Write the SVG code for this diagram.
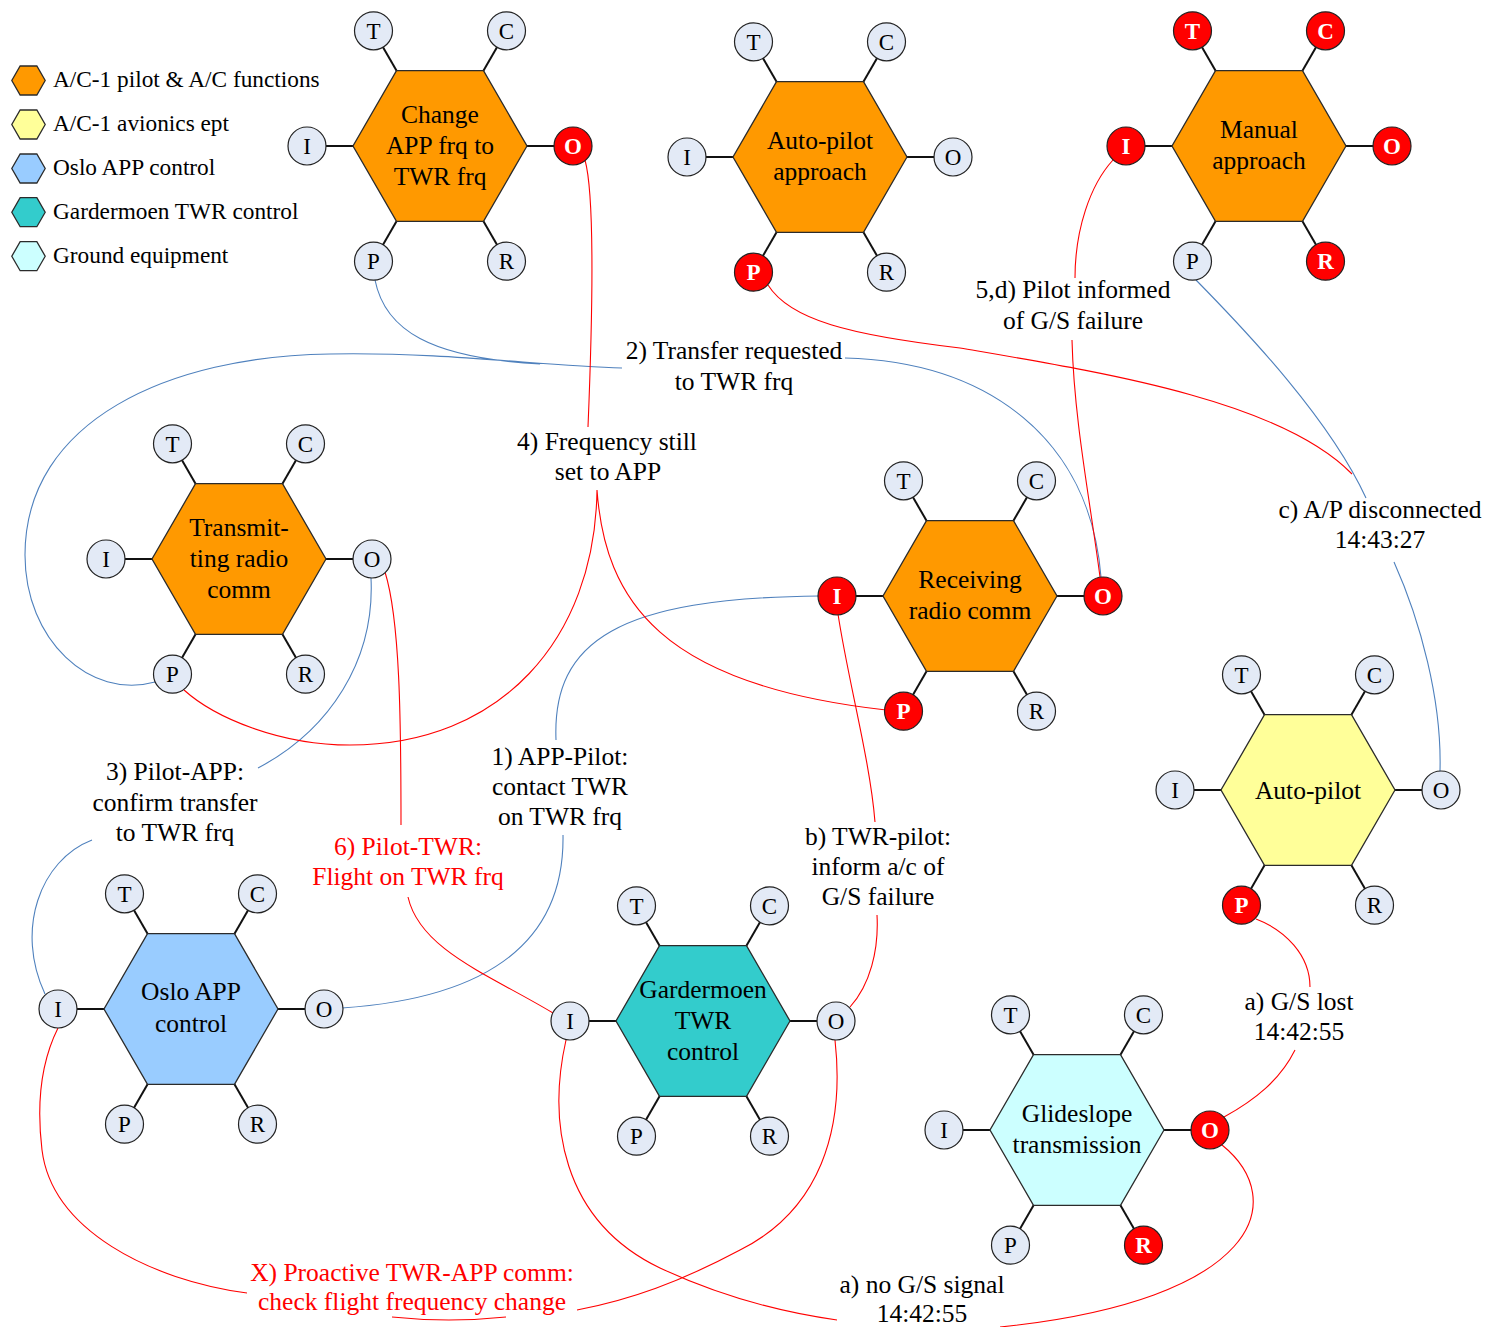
<svg xmlns="http://www.w3.org/2000/svg" xmlns:xlink="http://www.w3.org/1999/xlink" width="1486" height="1327" viewBox="0 0 1486 1327">
  <style>
    .hex { stroke: #2b2b2b; stroke-width: 1.3; }
    .pilot { fill: #FF9900; }
    .avionics { fill: #FFFF99; }
    .app { fill: #99CCFF; }
    .twr { fill: #33CCCC; }
    .ground { fill: #CCFFFF; }
    .spoke { stroke: #111; stroke-width: 2; }
    .port circle { fill: #E3EAF6; stroke: #222; stroke-width: 1.2; }
    .port text { font-family: "Liberation Serif", "Times New Roman", serif; font-size: 23px; text-anchor: middle; fill: #000; }
    .port.hot circle { fill: #FF0000; }
    .port.hot text { fill: #fff; font-weight: bold; }
    .name { font-family: "Liberation Serif", "Times New Roman", serif; font-size: 25.5px; text-anchor: middle; fill: #000; }
    .lbl { font-family: "Liberation Serif", "Times New Roman", serif; font-size: 25.5px; text-anchor: middle; fill: #000; }
    .lbl.red { fill: #FF0000; }
    .legend text { font-family: "Liberation Serif", "Times New Roman", serif; font-size: 23.3px; fill: #000; }
    .wire { fill: none; stroke-width: 1.1; }
    .wire.blue { stroke: #4F81BD; }
    .wire.red { stroke: #FF0000; }
  </style>
  <defs>
    <polygon id="hex" points="87,0 43.5,75.3 -43.5,75.3 -87,0 -43.5,-75.3 43.5,-75.3"/>
    <polygon id="hex-small" points="16.7,0 8.35,14.5 -8.35,14.5 -16.7,0 -8.35,-14.5 8.35,-14.5"/>
    <g id="spokes" class="spoke">
      <line x1="-133" y1="0" x2="133" y2="0"/>
      <line x1="-66.5" y1="-115.2" x2="66.5" y2="115.2"/>
      <line x1="66.5" y1="-115.2" x2="-66.5" y2="115.2"/>
    </g>
  </defs>

  <rect width="1486" height="1327" fill="#fff"/>

  <!-- legend -->
  <g id="legend" class="legend">
    <use xlink:href="#hex-small" x="28.5" y="80.5" class="hex pilot"/>
    <text x="53" y="87">A/C-1 pilot &amp; A/C functions</text>
    <use xlink:href="#hex-small" x="28.5" y="124.5" class="hex avionics"/>
    <text x="53" y="131">A/C-1 avionics ept</text>
    <use xlink:href="#hex-small" x="28.5" y="168.5" class="hex app"/>
    <text x="53" y="175">Oslo APP control</text>
    <use xlink:href="#hex-small" x="28.5" y="212.2" class="hex twr"/>
    <text x="53" y="218.5">Gardermoen TWR control</text>
    <use xlink:href="#hex-small" x="28.5" y="256.2" class="hex ground"/>
    <text x="53" y="262.5">Ground equipment</text>
  </g>

  <!-- couplings between functions -->
  <g id="connectors">
    <g id="c1-contact-twr">
      <path class="wire blue" d="M 342,1008 C 460,1000 565,960 563,835 M 556,740 C 552,640 620,598 819,596"/>
      <text class="lbl" x="560" y="765">1) APP-Pilot:</text>
      <text class="lbl" x="560" y="795">contact TWR</text>
      <text class="lbl" x="560" y="825">on TWR frq</text>
    </g>
    <g id="c2-transfer-requested">
      <path class="wire blue" d="M 155,682 C 90,700 25,640 25,555 C 25,420 170,356 330,354 C 450,352 540,366 622,368 M 375,280 C 385,330 430,358 540,364 M 845,358 C 990,362 1090,440 1101,577"/>
      <text class="lbl" x="734" y="359">2) Transfer requested</text>
      <text class="lbl" x="734" y="390">to TWR frq</text>
    </g>
    <g id="c3-confirm-transfer">
      <path class="wire blue" d="M 371,578 C 375,660 330,730 258,768 M 92,840 C 40,860 15,930 45,994"/>
      <text class="lbl" x="175" y="780">3) Pilot-APP:</text>
      <text class="lbl" x="175" y="811">confirm transfer</text>
      <text class="lbl" x="175" y="841">to TWR frq</text>
    </g>
    <g id="c4-frequency-app">
      <path class="wire red" d="M 585,160 C 596,200 592,330 588,427 M 597,490 C 595,640 500,745 350,745 C 280,745 215,718 184,690 M 597,490 C 605,600 660,685 886,710"/>
      <text class="lbl" x="607" y="450">4) Frequency still</text>
      <text class="lbl" x="608" y="480">set to APP</text>
    </g>
    <g id="c5-pilot-informed">
      <path class="wire red" d="M 1113,160 C 1090,185 1075,230 1075,278 M 1072,340 C 1074,420 1090,500 1100,577"/>
      <text class="lbl" x="1073" y="298">5,d) Pilot informed</text>
      <text class="lbl" x="1073" y="329">of G/S failure</text>
    </g>
    <g id="c6-flight-on-twr">
      <path class="wire red" d="M 385,572 C 400,620 401,720 401,825 M 408,897 C 420,950 490,975 553,1013"/>
      <text class="lbl red" x="408" y="855">6) Pilot-TWR:</text>
      <text class="lbl red" x="408" y="885">Flight on TWR frq</text>
    </g>
    <g id="ca-gs-lost">
      <path class="wire red" d="M 1256,919 C 1285,930 1310,955 1310,987 M 1295,1050 C 1280,1080 1255,1100 1224,1117"/>
      <text class="lbl" x="1299" y="1010">a) G/S lost</text>
      <text class="lbl" x="1299" y="1040">14:42:55</text>
    </g>
    <g id="ca-no-gs-signal">
      <path class="wire red" d="M 1222,1145 C 1290,1200 1260,1300 1000,1327 M 566,1040 C 548,1120 560,1220 660,1268 C 720,1296 780,1312 837,1320"/>
      <text class="lbl" x="922" y="1293">a) no G/S signal</text>
      <text class="lbl" x="922" y="1322">14:42:55</text>
    </g>
    <g id="cb-inform-gs-failure">
      <path class="wire red" d="M 850,1007 C 870,985 879,950 877,915 M 838,614 C 848,680 870,760 875,822"/>
      <text class="lbl" x="878" y="845">b) TWR-pilot:</text>
      <text class="lbl" x="878" y="875">inform a/c of</text>
      <text class="lbl" x="878" y="905">G/S failure</text>
    </g>
    <g id="cc-ap-disconnected">
      <path class="wire red" d="M 768,285 C 790,320 850,335 960,348 C 1100,372 1280,400 1352,474"/>
      <path class="wire blue" d="M 1196,280 C 1250,335 1330,420 1366,498 M 1394,562 C 1420,620 1442,700 1440,771"/>
      <text class="lbl" x="1380" y="518">c) A/P disconnected</text>
      <text class="lbl" x="1380" y="548">14:43:27</text>
    </g>
    <g id="cx-proactive-check">
      <path class="wire red" d="M 58,1028 C 42,1060 36,1100 42,1150 C 52,1230 150,1280 247,1293 M 392,1317 Q 449,1323 506,1317 M 835,1040 C 845,1130 820,1210 740,1250 C 680,1282 630,1300 577,1310"/>
      <text class="lbl red" x="412" y="1281">X) Proactive TWR-APP comm:</text>
      <text class="lbl red" x="412" y="1310">check flight frequency change</text>
    </g>
  </g>

  <!-- functions -->
  <g id="fn-change-frq" transform="translate(440,146)">
    <use xlink:href="#spokes"/>
    <use xlink:href="#hex" class="hex pilot"/>
    <text class="name" y="-23">Change</text>
    <text class="name" y="8">APP frq to</text>
    <text class="name" y="39">TWR frq</text>
    <g class="port"><circle cx="-66.5" cy="-115.2" r="19"/><text x="-66.5" y="-107.2">T</text></g>
    <g class="port"><circle cx="66.5" cy="-115.2" r="19"/><text x="66.5" y="-107.2">C</text></g>
    <g class="port"><circle cx="-133" cy="0" r="19"/><text x="-133" y="8">I</text></g>
    <g class="port hot"><circle cx="133" cy="0" r="19"/><text x="133" y="8">O</text></g>
    <g class="port"><circle cx="-66.5" cy="115.2" r="19"/><text x="-66.5" y="123.2">P</text></g>
    <g class="port"><circle cx="66.5" cy="115.2" r="19"/><text x="66.5" y="123.2">R</text></g>
  </g>

  <g id="fn-autopilot-approach" transform="translate(820,157)">
    <use xlink:href="#spokes"/>
    <use xlink:href="#hex" class="hex pilot"/>
    <text class="name" y="-8">Auto-pilot</text>
    <text class="name" y="22.5">approach</text>
    <g class="port"><circle cx="-66.5" cy="-115.2" r="19"/><text x="-66.5" y="-107.2">T</text></g>
    <g class="port"><circle cx="66.5" cy="-115.2" r="19"/><text x="66.5" y="-107.2">C</text></g>
    <g class="port"><circle cx="-133" cy="0" r="19"/><text x="-133" y="8">I</text></g>
    <g class="port"><circle cx="133" cy="0" r="19"/><text x="133" y="8">O</text></g>
    <g class="port hot"><circle cx="-66.5" cy="115.2" r="19"/><text x="-66.5" y="123.2">P</text></g>
    <g class="port"><circle cx="66.5" cy="115.2" r="19"/><text x="66.5" y="123.2">R</text></g>
  </g>

  <g id="fn-manual-approach" transform="translate(1259,146)">
    <use xlink:href="#spokes"/>
    <use xlink:href="#hex" class="hex pilot"/>
    <text class="name" y="-8">Manual</text>
    <text class="name" y="22.5">approach</text>
    <g class="port hot"><circle cx="-66.5" cy="-115.2" r="19"/><text x="-66.5" y="-107.2">T</text></g>
    <g class="port hot"><circle cx="66.5" cy="-115.2" r="19"/><text x="66.5" y="-107.2">C</text></g>
    <g class="port hot"><circle cx="-133" cy="0" r="19"/><text x="-133" y="8">I</text></g>
    <g class="port hot"><circle cx="133" cy="0" r="19"/><text x="133" y="8">O</text></g>
    <g class="port"><circle cx="-66.5" cy="115.2" r="19"/><text x="-66.5" y="123.2">P</text></g>
    <g class="port hot"><circle cx="66.5" cy="115.2" r="19"/><text x="66.5" y="123.2">R</text></g>
  </g>

  <g id="fn-transmitting" transform="translate(239,559)">
    <use xlink:href="#spokes"/>
    <use xlink:href="#hex" class="hex pilot"/>
    <text class="name" y="-23">Transmit-</text>
    <text class="name" y="8">ting radio</text>
    <text class="name" y="39">comm</text>
    <g class="port"><circle cx="-66.5" cy="-115.2" r="19"/><text x="-66.5" y="-107.2">T</text></g>
    <g class="port"><circle cx="66.5" cy="-115.2" r="19"/><text x="66.5" y="-107.2">C</text></g>
    <g class="port"><circle cx="-133" cy="0" r="19"/><text x="-133" y="8">I</text></g>
    <g class="port"><circle cx="133" cy="0" r="19"/><text x="133" y="8">O</text></g>
    <g class="port"><circle cx="-66.5" cy="115.2" r="19"/><text x="-66.5" y="123.2">P</text></g>
    <g class="port"><circle cx="66.5" cy="115.2" r="19"/><text x="66.5" y="123.2">R</text></g>
  </g>

  <g id="fn-receiving" transform="translate(970,596)">
    <use xlink:href="#spokes"/>
    <use xlink:href="#hex" class="hex pilot"/>
    <text class="name" y="-8">Receiving</text>
    <text class="name" y="22.5">radio comm</text>
    <g class="port"><circle cx="-66.5" cy="-115.2" r="19"/><text x="-66.5" y="-107.2">T</text></g>
    <g class="port"><circle cx="66.5" cy="-115.2" r="19"/><text x="66.5" y="-107.2">C</text></g>
    <g class="port hot"><circle cx="-133" cy="0" r="19"/><text x="-133" y="8">I</text></g>
    <g class="port hot"><circle cx="133" cy="0" r="19"/><text x="133" y="8">O</text></g>
    <g class="port hot"><circle cx="-66.5" cy="115.2" r="19"/><text x="-66.5" y="123.2">P</text></g>
    <g class="port"><circle cx="66.5" cy="115.2" r="19"/><text x="66.5" y="123.2">R</text></g>
  </g>

  <g id="fn-autopilot" transform="translate(1308,790)">
    <use xlink:href="#spokes"/>
    <use xlink:href="#hex" class="hex avionics"/>
    <text class="name" y="9">Auto-pilot</text>
    <g class="port"><circle cx="-66.5" cy="-115.2" r="19"/><text x="-66.5" y="-107.2">T</text></g>
    <g class="port"><circle cx="66.5" cy="-115.2" r="19"/><text x="66.5" y="-107.2">C</text></g>
    <g class="port"><circle cx="-133" cy="0" r="19"/><text x="-133" y="8">I</text></g>
    <g class="port"><circle cx="133" cy="0" r="19"/><text x="133" y="8">O</text></g>
    <g class="port hot"><circle cx="-66.5" cy="115.2" r="19"/><text x="-66.5" y="123.2">P</text></g>
    <g class="port"><circle cx="66.5" cy="115.2" r="19"/><text x="66.5" y="123.2">R</text></g>
  </g>

  <g id="fn-oslo-app" transform="translate(191,1009)">
    <use xlink:href="#spokes"/>
    <use xlink:href="#hex" class="hex app"/>
    <text class="name" y="-9">Oslo APP</text>
    <text class="name" y="22.5">control</text>
    <g class="port"><circle cx="-66.5" cy="-115.2" r="19"/><text x="-66.5" y="-107.2">T</text></g>
    <g class="port"><circle cx="66.5" cy="-115.2" r="19"/><text x="66.5" y="-107.2">C</text></g>
    <g class="port"><circle cx="-133" cy="0" r="19"/><text x="-133" y="8">I</text></g>
    <g class="port"><circle cx="133" cy="0" r="19"/><text x="133" y="8">O</text></g>
    <g class="port"><circle cx="-66.5" cy="115.2" r="19"/><text x="-66.5" y="123.2">P</text></g>
    <g class="port"><circle cx="66.5" cy="115.2" r="19"/><text x="66.5" y="123.2">R</text></g>
  </g>

  <g id="fn-gardermoen-twr" transform="translate(703,1021)">
    <use xlink:href="#spokes"/>
    <use xlink:href="#hex" class="hex twr"/>
    <text class="name" y="-23">Gardermoen</text>
    <text class="name" y="8">TWR</text>
    <text class="name" y="39">control</text>
    <g class="port"><circle cx="-66.5" cy="-115.2" r="19"/><text x="-66.5" y="-107.2">T</text></g>
    <g class="port"><circle cx="66.5" cy="-115.2" r="19"/><text x="66.5" y="-107.2">C</text></g>
    <g class="port"><circle cx="-133" cy="0" r="19"/><text x="-133" y="8">I</text></g>
    <g class="port"><circle cx="133" cy="0" r="19"/><text x="133" y="8">O</text></g>
    <g class="port"><circle cx="-66.5" cy="115.2" r="19"/><text x="-66.5" y="123.2">P</text></g>
    <g class="port"><circle cx="66.5" cy="115.2" r="19"/><text x="66.5" y="123.2">R</text></g>
  </g>

  <g id="fn-glideslope" transform="translate(1077,1130)">
    <use xlink:href="#spokes"/>
    <use xlink:href="#hex" class="hex ground"/>
    <text class="name" y="-8">Glideslope</text>
    <text class="name" y="22.5">transmission</text>
    <g class="port"><circle cx="-66.5" cy="-115.2" r="19"/><text x="-66.5" y="-107.2">T</text></g>
    <g class="port"><circle cx="66.5" cy="-115.2" r="19"/><text x="66.5" y="-107.2">C</text></g>
    <g class="port"><circle cx="-133" cy="0" r="19"/><text x="-133" y="8">I</text></g>
    <g class="port hot"><circle cx="133" cy="0" r="19"/><text x="133" y="8">O</text></g>
    <g class="port"><circle cx="-66.5" cy="115.2" r="19"/><text x="-66.5" y="123.2">P</text></g>
    <g class="port hot"><circle cx="66.5" cy="115.2" r="19"/><text x="66.5" y="123.2">R</text></g>
  </g>
</svg>
